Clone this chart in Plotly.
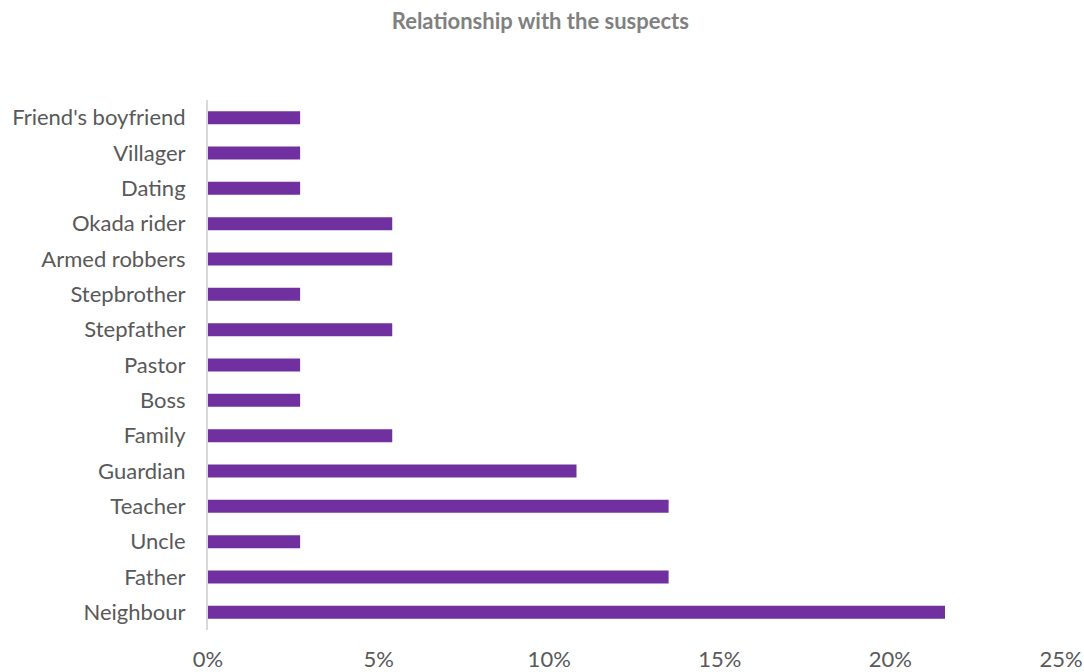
import plotly.graph_objects as go

categories = ["Neighbour", "Father", "Uncle", "Teacher", "Guardian", "Family", "Boss",
              "Pastor", "Stepfather", "Stepbrother", "Armed robbers", "Okada rider",
              "Dating", "Villager", "Friend's boyfriend"]
values = [0.216, 0.135, 0.027, 0.135, 0.108, 0.054, 0.027,
          0.027, 0.054, 0.027, 0.054, 0.054, 0.027, 0.027, 0.027]
x_ticks = [0, 0.05, 0.10, 0.15, 0.20, 0.25]
x_tick_labels = ["0%", "5%", "10%", "15%", "20%", "25%"]

FONT = "Lato, Carlito, Calibri, sans-serif"

fig = go.Figure(go.Bar(
    x=values, y=categories, orientation="h",
    marker=dict(color="#7030a0", line=dict(width=0)),
))
fig.update_layout(
    width=1084, height=672,
    margin=dict(l=208, r=23, t=100, b=42, autoexpand=False),
    paper_bgcolor="white", plot_bgcolor="white",
    bargap=0.63,
    showlegend=False,
    font=dict(family=FONT, color="#595959"),
    title=dict(text="<b>Relationship with the suspects</b>", x=0.4985, xanchor="center",
               y=0.969, yanchor="middle",
               font=dict(size=22, color="#808080", family=FONT)),
)
fig.update_xaxes(range=[0, 0.25], tickvals=x_ticks, ticktext=x_tick_labels,
                 showgrid=False, zeroline=False, showline=False, automargin=False,
                 tickfont=dict(size=22, color="#595959"), ticklabelstandoff=14)
fig.update_yaxes(categoryorder="array", categoryarray=categories,
                 range=[-0.5, len(categories) - 0.5], automargin=False,
                 showgrid=False, zeroline=False, showline=True, linecolor="#d9d9d9", linewidth=2,
                 tickfont=dict(size=22, color="#595959"), ticklabelstandoff=16)
fig.write_html("out.html", config={"displayModeBar": False},
               post_script="document.body.style.margin='0';document.body.style.overflow='hidden';")
